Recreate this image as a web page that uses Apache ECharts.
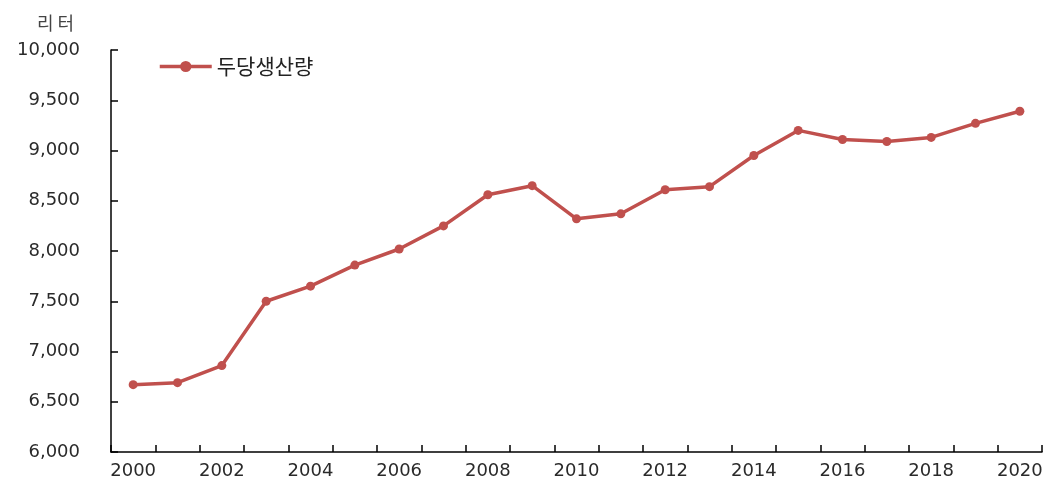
<!DOCTYPE html>
<html>
<head>
<meta charset="utf-8">
<script src="https://cdn.jsdelivr.net/npm/echarts@6/dist/echarts.min.js"></script>
<style>
html,body{margin:0;padding:0;background:#fff;}
#chart{width:1048px;height:486px;}
</style>
</head>
<body>
<div id="chart"></div>
<script>
const years = ['2000','2001','2002','2003','2004','2005','2006','2007','2008','2009','2010','2011','2012','2013','2014','2015','2016','2017','2018','2019','2020'];
const perHeadYield = [6670, 6690, 6860, 7500, 7650, 7860, 8020, 8250, 8560, 8650, 8320, 8370, 8610, 8640, 8950, 9200, 9110, 9090, 9130, 9270, 9390];
const seriesName = '두당생산량';
const unitLabel = '리 터';

const chart = echarts.init(document.getElementById('chart'));
const fontNum = 'DejaVu Sans, Noto Sans CJK KR, sans-serif';
chart.setOption({
  animation: false,
  backgroundColor: '#fff',
  grid: {left: 111, right: 6, top: 50, bottom: 34, containLabel: false},
  title: {
    text: unitLabel, left: 32, top: 9,
    textStyle: {fontFamily: 'Noto Sans CJK KR', fontSize: 18, fontWeight: 'normal', color: '#444'}
  },
  legend: {
    left: 153, top: 51, itemWidth: 52, itemHeight: 14, itemGap: 0,
    data: [seriesName],
    lineStyle: {width: 3.5},
    textStyle: {fontFamily: 'Noto Sans CJK KR', fontSize: 21, color: '#222'}
  },
  xAxis: {
    type: 'category', data: years, boundaryGap: true,
    axisLine: {lineStyle: {color: '#000', width: 1.5}},
    axisTick: {show: true, inside: true, interval: 0, length: 7, lineStyle: {color: '#000', width: 1.5}},
    axisLabel: {interval: 1, margin: 10, fontFamily: fontNum, fontSize: 18, color: '#2a2a2a'},
    splitLine: {show: false}
  },
  yAxis: {
    type: 'value', min: 6000, max: 10000, interval: 500,
    axisLine: {show: true, lineStyle: {color: '#000', width: 1.5}},
    axisTick: {show: true, inside: true, length: 7, lineStyle: {color: '#000', width: 1.5}},
    axisLabel: {margin: 31, fontFamily: fontNum, fontSize: 18, color: '#2a2a2a',
      formatter: v => v.toLocaleString('en-US')},
    splitLine: {show: false}
  },
  series: [{
    name: seriesName, type: 'line', data: perHeadYield,
    symbol: 'circle', symbolSize: 9,
    lineStyle: {color: '#c0504d', width: 3.5},
    itemStyle: {color: '#c0504d'}
  }]
});
</script>
</body>
</html>
